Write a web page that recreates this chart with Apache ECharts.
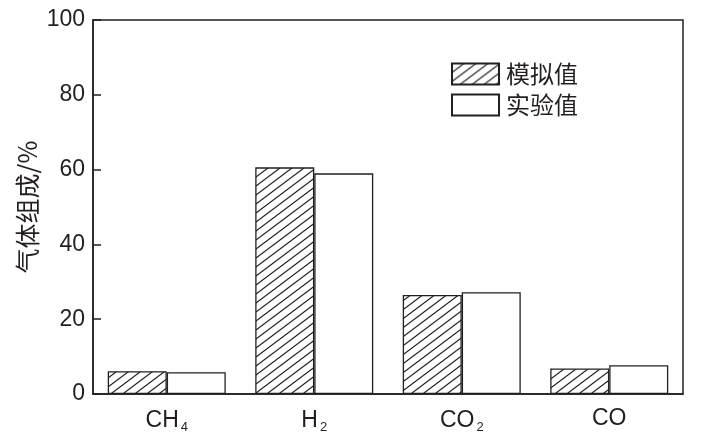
<!DOCTYPE html>
<html>
<head>
<meta charset="utf-8">
<script src="https://cdn.jsdelivr.net/npm/echarts@6/dist/echarts.min.js"></script>
<style>html,body{margin:0;padding:0;background:#fff;}#c{width:702px;height:438px;}</style>
</head>
<body>
<div id="c"></div>
<script>
const categories = ['CH{sub|4}', 'H{sub|2}', 'CO{sub|2}', 'CO'];
const simulated = [6.1, 60.6, 26.5, 6.8];
const experimental = [5.8, 59.0, 27.2, 7.7];
const yTicks = { min: 0, max: 100, interval: 20 };
const seriesNames = ['模拟值', '实验值'];
const yName = '气体组成/%';

function hatch() {
  const w = 12, h = 9;
  const c = document.createElement('canvas');
  c.width = w; c.height = h;
  const g = c.getContext('2d');
  g.fillStyle = '#fff';
  g.fillRect(0, 0, w, h);
  g.strokeStyle = '#222';
  g.lineWidth = 1.2;
  g.beginPath();
  g.moveTo(-w, 2 * h); g.lineTo(2 * w, -h);
  g.moveTo(-w * 2, 2 * h); g.lineTo(w, -h);
  g.moveTo(0, 2 * h); g.lineTo(3 * w, -h);
  g.stroke();
  return c;
}

const chart = echarts.init(document.getElementById('c'), null, { renderer: 'canvas' });
const txt = '#231f20';
chart.setOption({
  animation: false,
  grid: { left: 93, right: 19, top: 20, bottom: 44, show: true, borderColor: txt, borderWidth: 1.5, backgroundColor: 'transparent' },
  legend: {
    orient: 'vertical', left: 446, top: 57, itemWidth: 47, itemHeight: 21, itemGap: 7,
    icon: 'rect',
    textStyle: { fontSize: 24, lineHeight: 21, color: txt, fontFamily: 'Noto Sans CJK SC', padding: [0, 0, 0, 2] },
    data: seriesNames
  },
  xAxis: {
    type: 'category', data: categories,
    axisLine: { lineStyle: { color: txt, width: 1.5 } },
    axisTick: { show: false },
    axisLabel: {
      margin: 13, fontSize: 23, color: txt, fontFamily: 'Liberation Sans',
      rich: { sub: { fontSize: 13, color: txt, fontFamily: 'Liberation Sans', verticalAlign: 'bottom', padding: [14, 0, 0, 2] } }
    }
  },
  yAxis: {
    type: 'value', min: yTicks.min, max: yTicks.max, interval: yTicks.interval,
    name: yName, nameLocation: 'middle', nameGap: 53, nameRotate: 90, nameMoveOverlap: false,
    nameTextStyle: { fontSize: 25, color: txt, fontFamily: 'Noto Sans CJK SC' },
    axisLine: { show: true, lineStyle: { color: txt, width: 1.5 } },
    axisTick: { show: true, inside: true, length: 8, lineStyle: { color: txt, width: 1.5 } },
    splitLine: { show: false },
    axisLabel: { fontSize: 23, color: txt, fontFamily: 'Liberation Sans', margin: 8 }
  },
  series: [
    { name: seriesNames[0], type: 'bar', data: simulated, barWidth: 59, barGap: '0%',
      itemStyle: { color: { image: hatch(), repeat: 'repeat' }, borderColor: txt, borderWidth: 1.3 } },
    { name: seriesNames[1], type: 'bar', data: experimental, barWidth: 59,
      itemStyle: { color: '#fff', borderColor: txt, borderWidth: 1.3 } }
  ]
});
</script>
</body>
</html>
